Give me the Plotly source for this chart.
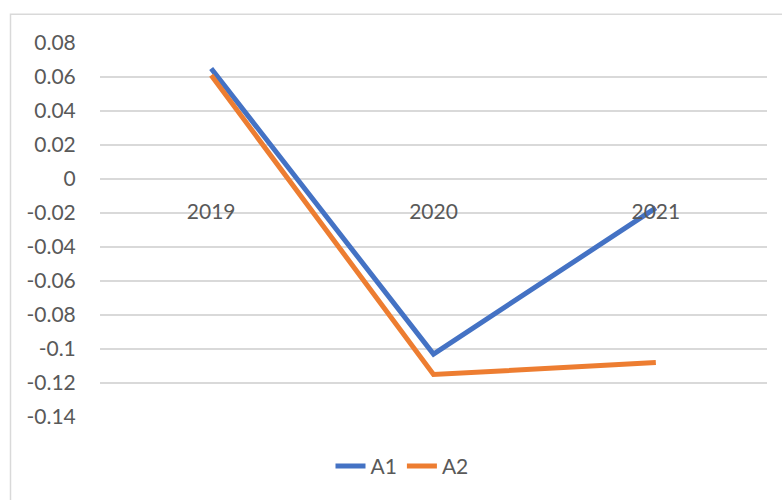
import plotly.graph_objects as go

categories = ["2019", "2020", "2021"]
a1_values = [0.065, -0.103, -0.017]
a2_values = [0.061, -0.115, -0.108]
y_ticks = [0.08, 0.06, 0.04, 0.02, 0, -0.02, -0.04, -0.06, -0.08, -0.1, -0.12, -0.14]
y_tick_labels = ["0.08", "0.06", "0.04", "0.02", "0", "-0.02", "-0.04", "-0.06", "-0.08", "-0.1", "-0.12", "-0.14"]

W, H = 782, 500
L, R, T, B = 100, 15, 43.3, 83.3
pw, ph = W - L - R, H - T - B
ymin, ymax = -0.14, 0.08

def px_to_paper_x(px):
    return (px - L) / pw

def px_to_paper_y(py):
    return (H - B - py) / ph

font = dict(family="Lato, Liberation Sans, sans-serif", size=21, color="#595959")

fig = go.Figure()
fig.add_trace(go.Scatter(x=categories, y=a1_values, mode="lines", name="A1",
                         line=dict(color="#4472C4", width=5)))
fig.add_trace(go.Scatter(x=categories, y=a2_values, mode="lines", name="A2",
                         line=dict(color="#ED7D31", width=5)))

fig.update_layout(
    width=W, height=H,
    margin=dict(l=L, r=R, t=T, b=B),
    paper_bgcolor="white", plot_bgcolor="white",
    font=font,
    showlegend=True,
    legend=dict(orientation="h", x=px_to_paper_x(402), xanchor="center",
                y=px_to_paper_y(466), yanchor="middle", font=font,
                bgcolor="rgba(0,0,0,0)"),
    xaxis=dict(type="category", showgrid=False, zeroline=False, showline=False,
               anchor="free", position=(0 - ymin) / (ymax - ymin),
               ticks="outside", ticklen=14, tickcolor="rgba(0,0,0,0)",
               tickfont=font, range=[-0.5, 2.5]),
    yaxis=dict(range=[ymin, ymax], tickvals=y_ticks, ticktext=y_tick_labels,
               showgrid=True, gridcolor="#D9D9D9", gridwidth=1.5,
               zeroline=False, showline=False, ticks="outside", ticklen=19,
               tickcolor="rgba(0,0,0,0)", tickfont=font),
    shapes=[dict(type="rect", xref="paper", yref="paper",
                 x0=px_to_paper_x(10.5), x1=px_to_paper_x(800),
                 y0=px_to_paper_y(520), y1=px_to_paper_y(14.5),
                 line=dict(color="#D9D9D9", width=1.5), layer="below")],
)

fig.write_html("out.html")
